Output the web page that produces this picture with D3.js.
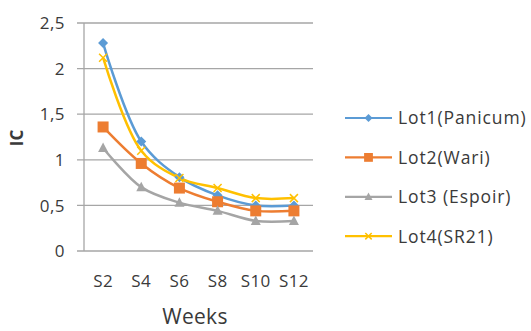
<!DOCTYPE html>
<html><head><meta charset="utf-8">
<script src="https://cdn.jsdelivr.net/npm/d3@7"></script>
<style>body{margin:0;background:#fff}svg{display:block}</style>
</head><body>
<script>
const categories = ["S2","S4","S6","S8","S10","S12"];
const seriesNames = ["Lot1(Panicum)","Lot2(Wari)","Lot3 (Espoir)","Lot4(SR21)"];
const lot1 = [2.28,1.20,0.81,0.61,0.50,0.50];
const lot2 = [1.36,0.96,0.69,0.54,0.44,0.44];
const lot3 = [1.13,0.70,0.53,0.44,0.33,0.33];
const lot4 = [2.12,1.10,0.80,0.69,0.58,0.58];
const yTicks = [0,0.5,1,1.5,2,2.5];
const colors = ["#5b9bd5","#ed7d31","#a5a5a5","#ffc000"];
const markers = ["diamond","square","triangle","cross"];

const W=531,H=331;
const svg=d3.select("body").append("svg").attr("width",W).attr("height",H);
const L=84,R=313,T=23,B=251;
const x=d3.scaleBand().domain(categories).range([L,R]);
const y=d3.scaleLinear().domain([0,2.5]).range([B,T]);
const font="'Open Sans', sans-serif";
const tc="#3a3a3a";

svg.append("g").selectAll("line").data(yTicks).join("line")
  .attr("x1",L-7).attr("x2",R).attr("y1",d=>y(d)).attr("y2",d=>y(d))
  .attr("stroke","#a6a6a6").attr("stroke-width",1.3);
svg.append("line").attr("x1",L).attr("x2",L).attr("y1",T).attr("y2",B).attr("stroke","#a6a6a6").attr("stroke-width",1.3);
svg.append("g").selectAll("text").data(yTicks).join("text")
  .attr("x",L-19).attr("y",d=>y(d)).attr("dy","0.36em").attr("text-anchor","end")
  .attr("font-family",font).attr("font-size",17).attr("letter-spacing",0.5).attr("fill",tc)
  .text(d=>d.toString().replace(".",","));
svg.append("g").selectAll("text").data(categories).join("text")
  .attr("x",d=>x(d)+x.bandwidth()/2).attr("y",281).attr("dy","0.36em").attr("text-anchor","middle")
  .attr("font-family",font).attr("font-size",17).attr("letter-spacing",0.4).attr("fill",tc).text(d=>d);
svg.append("text").attr("x",195).attr("y",316).attr("dy","0.36em").attr("text-anchor","middle")
  .attr("font-family",font).attr("font-size",21).attr("letter-spacing",0.3).attr("fill",tc).text("Weeks");
svg.append("text").attr("transform","translate(17,138) rotate(-90)").attr("dy","0.36em").attr("text-anchor","middle")
  .attr("font-family",font).attr("font-size",17).attr("font-weight","bold").attr("fill",tc).text("IC");

const data=[lot1,lot2,lot3,lot4];
const line=d3.line().x((d,i)=>x(categories[i])+x.bandwidth()/2).y(d=>y(d)).curve(d3.curveCatmullRom.alpha(0.5));

function marker(g,type,color,s){
  if(type==="diamond") g.append("path").attr("d",`M0,${-5*s}L${5*s},0L0,${5*s}L${-5*s},0Z`).attr("fill",color);
  else if(type==="square") g.append("rect").attr("x",-5.5*s).attr("y",-5.5*s).attr("width",11*s).attr("height",11*s).attr("fill",color);
  else if(type==="triangle") g.append("path").attr("d",`M0,${-5.5*s}L${5*s},${4*s}L${-5*s},${4*s}Z`).attr("fill",color);
  else g.append("path").attr("d",`M${-4*s},${-4*s}L${4*s},${4*s}M${-4*s},${4*s}L${4*s},${-4*s}`).attr("stroke",color).attr("stroke-width",1.5);
}

data.forEach((vals,k)=>{
  svg.append("path").datum(vals).attr("d",line).attr("fill","none").attr("stroke",colors[k]).attr("stroke-width",2.5);
});
data.forEach((vals,k)=>{
  vals.forEach((v,i)=>{
    const g=svg.append("g").attr("transform",`translate(${x(categories[i])+x.bandwidth()/2},${y(v)})`);
    marker(g,markers[k],colors[k],1);
  });
});

const ly0=118, lstep=39.4;
seriesNames.forEach((n,k)=>{
  const yy=ly0+k*lstep;
  svg.append("line").attr("x1",345).attr("x2",392).attr("y1",yy).attr("y2",yy).attr("stroke",colors[k]).attr("stroke-width",2.2);
  const g=svg.append("g").attr("transform",`translate(368.5,${yy})`);
  marker(g,markers[k],colors[k],0.8);
  svg.append("text").attr("x",398).attr("y",yy).attr("dy","0.36em")
    .attr("font-family",font).attr("font-size",17.5).attr("letter-spacing",0.9).attr("fill",tc).text(n);
});
</script>
</body></html>
